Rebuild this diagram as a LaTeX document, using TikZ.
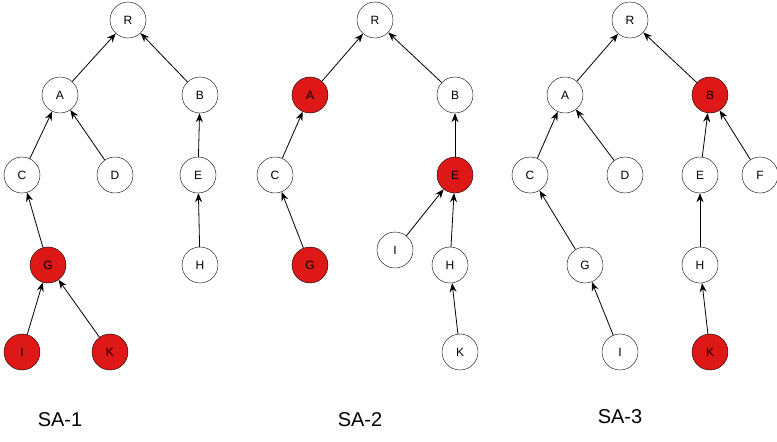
\documentclass[tikz,border=0pt]{standalone}
\usepackage{fontspec}
\setmainfont{Liberation Sans}
\usetikzlibrary{arrows.meta}
\definecolor{hot}{RGB}{222,24,22}
\tikzset{
  vert/.style={draw=black,shape=circle,minimum size=36pt,inner sep=0pt,font=\fontsize{12pt}{12pt}\selectfont},
  hotvert/.style={vert,fill=hot},
  up/.style={-{Stealth[length=9pt,width=7pt]},line width=0.8pt},
  treename/.style={font=\fontsize{20pt}{20pt}\selectfont}
}
\begin{document}
\begin{tikzpicture}[x=1pt,y=-1pt]
  \useasboundingbox (0,0) rectangle (777,442);
  % SA-1
  \node[vert] (r1) at (128,20) {R};
  \node[vert] (a1) at (60,95) {A};
  \node[vert] (b1) at (200,95) {B};
  \node[vert] (c1) at (22,175) {C};
  \node[vert] (d1) at (115,175) {D};
  \node[vert] (e1) at (198,175) {E};
  \node[hotvert] (g1) at (48,265) {G};
  \node[vert] (h1) at (200,265) {H};
  \node[hotvert] (i1) at (22,352) {I};
  \node[hotvert] (k1) at (110,352) {K};
  \draw[up] (a1) -- (r1);
  \draw[up] (b1) -- (r1);
  \draw[up] (c1) -- (a1);
  \draw[up] (d1) -- (a1);
  \draw[up] (e1) -- (b1);
  \draw[up] (g1) -- (c1);
  \draw[up] (h1) -- (e1);
  \draw[up] (i1) -- (g1);
  \draw[up] (k1) -- (g1);
  \node[treename] (t1) at (60,420) {SA-1};
  % SA-2
  \node[vert] (r2) at (375,20) {R};
  \node[hotvert] (a2) at (310,95) {A};
  \node[vert] (b2) at (455,95) {B};
  \node[vert] (c2) at (275,175) {C};
  \node[hotvert] (e2) at (455,175) {E};
  \node[hotvert] (g2) at (310,265) {G};
  \node[vert] (i2) at (395,250) {I};
  \node[vert] (h2) at (450,265) {H};
  \node[vert] (k2) at (460,352) {K};
  \draw[up] (a2) -- (r2);
  \draw[up] (b2) -- (r2);
  \draw[up] (c2) -- (a2);
  \draw[up] (e2) -- (b2);
  \draw[up] (g2) -- (c2);
  \draw[up] (i2) -- (e2);
  \draw[up] (h2) -- (e2);
  \draw[up] (k2) -- (h2);
  \node[treename] (t2) at (360,420) {SA-2};
  % SA-3
  \node[vert] (r3) at (630,20) {R};
  \node[vert] (a3) at (565,95) {A};
  \node[hotvert] (b3) at (710,95) {B};
  \node[vert] (c3) at (530,175) {C};
  \node[vert] (d3) at (625,175) {D};
  \node[vert] (e3) at (700,175) {E};
  \node[vert] (f3) at (760,175) {F};
  \node[vert] (g3) at (585,265) {G};
  \node[vert] (h3) at (700,265) {H};
  \node[vert] (i3) at (620,352) {I};
  \node[hotvert] (k3) at (710,352) {K};
  \draw[up] (a3) -- (r3);
  \draw[up] (b3) -- (r3);
  \draw[up] (c3) -- (a3);
  \draw[up] (d3) -- (a3);
  \draw[up] (e3) -- (b3);
  \draw[up] (f3) -- (b3);
  \draw[up] (g3) -- (c3);
  \draw[up] (h3) -- (e3);
  \draw[up] (i3) -- (g3);
  \draw[up] (k3) -- (h3);
  \node[treename] (t3) at (620,417) {SA-3};
\end{tikzpicture}
\end{document}
